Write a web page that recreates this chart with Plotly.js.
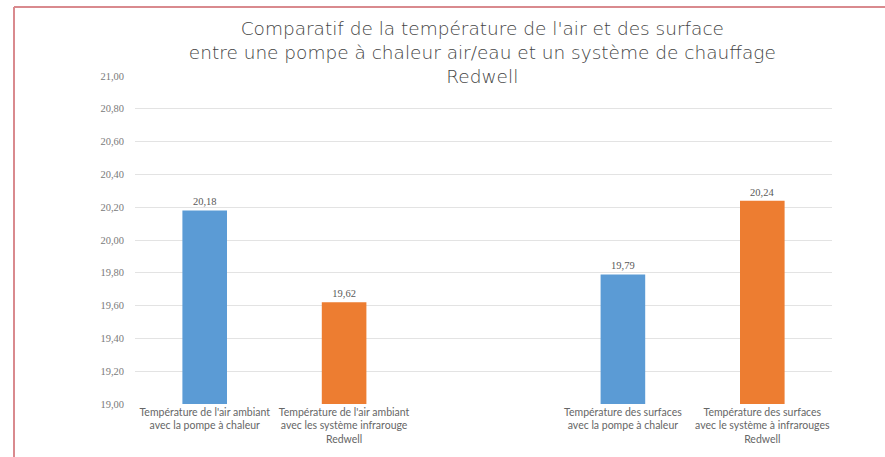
<!DOCTYPE html>
<html>
<head>
<meta charset="utf-8">
<script src="https://cdn.plot.ly/plotly-3.0.1.min.js"></script>
<style>html,body{margin:0;padding:0;background:#fff;}#chart{width:885px;height:457px;}</style>
</head>
<body>
<div id="chart"></div>
<script>
var categories = [
  "Température de l'air ambiant<br>avec la pompe à chaleur",
  "Température de l'air ambiant<br>avec les système infrarouge<br>Redwell",
  " ",
  "Température des surfaces<br>avec la pompe à chaleur",
  "Température des surfaces<br>avec le système à infrarouges<br>Redwell"
];
var values = [20.18, 19.62, null, 19.79, 20.24];
var barColors = ["#5b9bd5", "#ed7d31", "#ffffff", "#5b9bd5", "#ed7d31"];
var titleText = "Comparatif de la température de l'air et des surface<br>entre une pompe à chaleur air/eau et un système de chauffage<br>Redwell";

var trace = {
  type: "bar",
  x: categories,
  y: values,
  marker: {color: barColors},
  width: 0.32,
  texttemplate: "%{y:.2f}",
  textposition: "outside",
  cliponaxis: false,
  textfont: {family: "Liberation Serif", size: 10.5, color: "#595959"},
  hoverinfo: "x+y"
};

var layout = {
  width: 885, height: 457,
  margin: {l: 135, r: 53, t: 76, b: 53},
  paper_bgcolor: "#ffffff",
  plot_bgcolor: "#ffffff",
  separators: ", ",
  showlegend: false,
  title: {
    text: titleText,
    font: {family: "DejaVu Sans", size: 18.5, color: "#444444", weight: 200},
    x: 0.545, xanchor: "center",
    y: 0.923, yanchor: "top",
    yref: "container"
  },
  xaxis: {
    type: "category",
    showgrid: false,
    zeroline: false,
    showline: false,
    ticks: "",
    tickfont: {family: "Lato", size: 10.5, color: "#666666"},
    fixedrange: true
  },
  yaxis: {
    range: [19, 21],
    dtick: 0.2,
    tick0: 19,
    tickformat: ".2f",
    showgrid: true,
    gridcolor: "#e3e3e3",
    gridwidth: 1,
    zeroline: false,
    showline: false,
    ticks: "",
    ticklabelstandoff: 10,
    tickfont: {family: "Liberation Serif", size: 10.5, color: "#7a7a7a"},
    fixedrange: true
  },
  shapes: [
    {type: "rect", xref: "paper", yref: "paper", x0: 0.0215, x1: 0.971, y0: 0.985, y1: 1.05,
     fillcolor: "#ffffff", line: {width: 0}, layer: "between"},
    {type: "line", xref: "paper", yref: "paper", x0: -0.1736, x1: 1.09, y0: 1.2104, y1: 1.2104,
     line: {color: "#d98a8e", width: 2}},
    {type: "line", xref: "paper", yref: "paper", x0: -0.1736, x1: -0.1736, y0: 1.2104, y1: -0.2,
     line: {color: "#d98a8e", width: 2}}
  ]
};

Plotly.newPlot("chart", [trace], layout, {displayModeBar: false, staticPlot: true});
</script>
</body>
</html>
